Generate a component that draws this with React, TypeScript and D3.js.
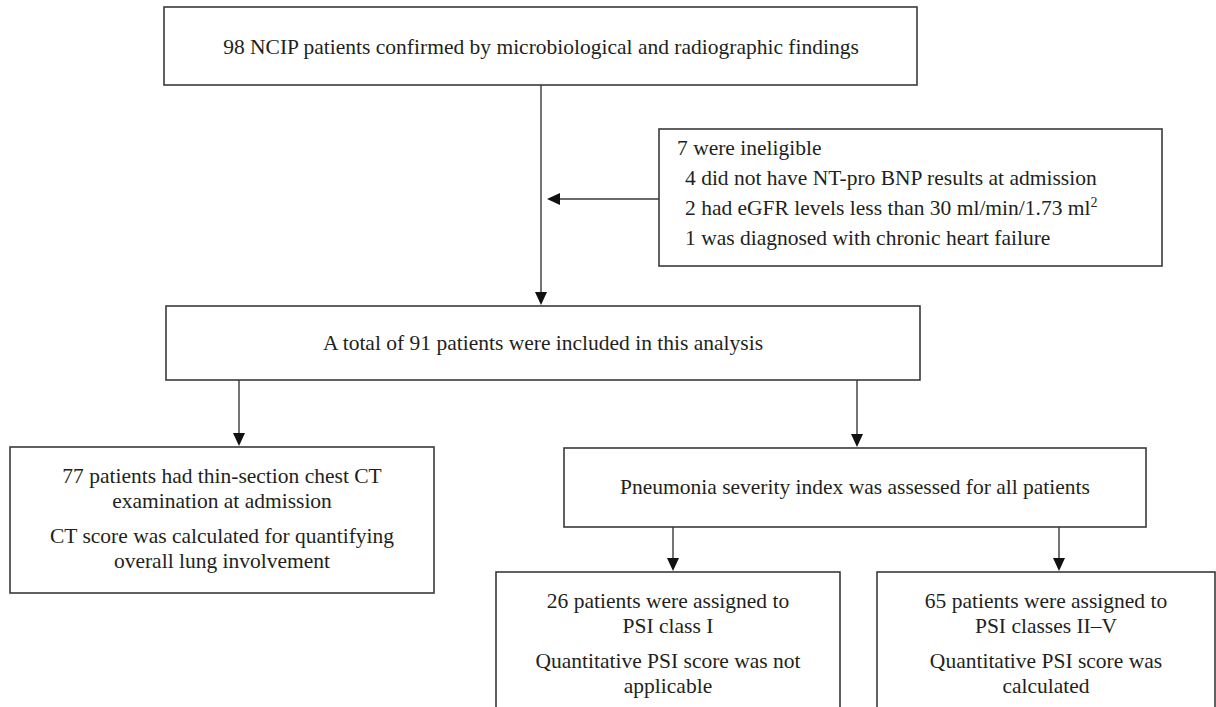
import React from "react";
import * as d3 from "d3";

const W = 1216;
const H = 707;

type Box = { id: string; x0: number; x1: number; y0: number; y1: number };

const boxes: Box[] = [
  { id: "screen", x0: 164, x1: 917, y0: 7, y1: 85 },
  { id: "excluded", x0: 659, x1: 1162, y0: 129, y1: 266 },
  { id: "included", x0: 166, x1: 920, y0: 306, y1: 380 },
  { id: "ct", x0: 10, x1: 434, y0: 447, y1: 593 },
  { id: "psi", x0: 564, x1: 1146, y0: 448, y1: 527 },
  { id: "class1", x0: 496, x1: 840, y0: 572, y1: 720 },
  { id: "class2", x0: 877, x1: 1215, y0: 572, y1: 720 },
];

const screenText = ["98 NCIP patients confirmed by microbiological and radiographic findings"];
const excludedTitle = "7 were ineligible";
const excludedItems = [
  "4 did not have NT-pro BNP results at admission",
  "2 had eGFR levels less than 30 ml/min/1.73 ml",
  "1 was diagnosed with chronic heart failure",
];
const includedText = ["A total of 91 patients were included in this analysis"];
const ctText = [
  ["77 patients had thin-section chest CT", "examination at admission"],
  ["CT score was calculated for quantifying", "overall lung involvement"],
];
const psiText = ["Pneumonia severity index was assessed for all patients"];
const class1Text = [
  ["26 patients were assigned to", "PSI class I"],
  ["Quantitative PSI score was not", "applicable"],
];
const class2Text = [
  ["65 patients were assigned to", "PSI classes II\u2013V"],
  ["Quantitative PSI score was", "calculated"],
];

// connector polylines, each ending in an arrowhead
const arrows: [number, number][][] = [
  [[541, 85], [541, 305]],
  [[659, 199], [547, 199]],
  [[239, 380], [239, 446]],
  [[857, 380], [857, 447]],
  [[673, 527], [673, 571]],
  [[1059, 527], [1059, 571]],
];

const FONT = "'Liberation Serif', 'Times New Roman', serif";
const FS = 21.5;
const STROKE = "#3a3a3a";

function Arrow({ pts }: { pts: [number, number][] }) {
  const line = d3.line();
  const n = pts.length;
  const [ex, ey] = pts[n - 1];
  const [px, py] = pts[n - 2];
  const ang = Math.atan2(ey - py, ex - px);
  const L = 13;
  const w = 6;
  const bx = ex - L * Math.cos(ang);
  const by = ey - L * Math.sin(ang);
  const head: [number, number][] = [
    [ex, ey],
    [bx + w * Math.sin(ang), by - w * Math.cos(ang)],
    [bx - w * Math.sin(ang), by + w * Math.cos(ang)],
  ];
  const shaft = pts.slice(0, n - 1).concat([[bx, by]]);
  return (
    <g>
      <path d={line(shaft) || ""} fill="none" stroke={STROKE} strokeWidth={1.4} />
      <path d={(line(head) || "") + "Z"} fill="#111" stroke="none" />
    </g>
  );
}

function CenteredBlock({ box, groups, firstBase, lh, gap }: { box: Box; groups: string[][]; firstBase: number; lh: number; gap: number }) {
  const cx = (box.x0 + box.x1) / 2;
  const out: JSX.Element[] = [];
  let y = box.y0 + firstBase;
  groups.forEach((g, gi) => {
    g.forEach((t, ti) => {
      out.push(
        <text key={gi + "-" + ti} x={cx} y={y} textAnchor="middle">
          {t}
        </text>
      );
      y += lh;
    });
    y += gap;
  });
  return <g>{out}</g>;
}

export default function App() {
  const b = Object.fromEntries(boxes.map((d) => [d.id, d])) as Record<string, Box>;
  return (
    <svg width={W} height={H} style={{ position: "absolute", left: 0, top: 0, background: "#fff" }} fontFamily={FONT} fontSize={FS} fill="#231f20">
      <rect x={0} y={0} width={W} height={H} fill="#fff" />
      {boxes.map((d) => (
        <rect key={d.id} x={d.x0} y={d.y0} width={d.x1 - d.x0} height={d.y1 - d.y0} fill="none" stroke={STROKE} strokeWidth={1.6} />
      ))}
      {arrows.map((p, i) => (
        <Arrow key={i} pts={p} />
      ))}
      <text x={541} y={54} textAnchor="middle">{screenText[0]}</text>
      <text x={677} y={155}>{excludedTitle}</text>
      {excludedItems.map((t, i) => (
        <text key={i} x={685} y={185 + i * 30}>
          {t}
          {i === 1 ? <tspan dy={-8} fontSize={14}>2</tspan> : null}
        </text>
      ))}
      <text x={543} y={350} textAnchor="middle">{includedText[0]}</text>
      <CenteredBlock box={b.ct} groups={ctText} firstBase={36} lh={25} gap={10} />
      <text x={855} y={494} textAnchor="middle">{psiText[0]}</text>
      <CenteredBlock box={b.class1} groups={class1Text} firstBase={36} lh={25} gap={10} />
      <CenteredBlock box={b.class2} groups={class2Text} firstBase={36} lh={25} gap={10} />
    </svg>
  );
}
